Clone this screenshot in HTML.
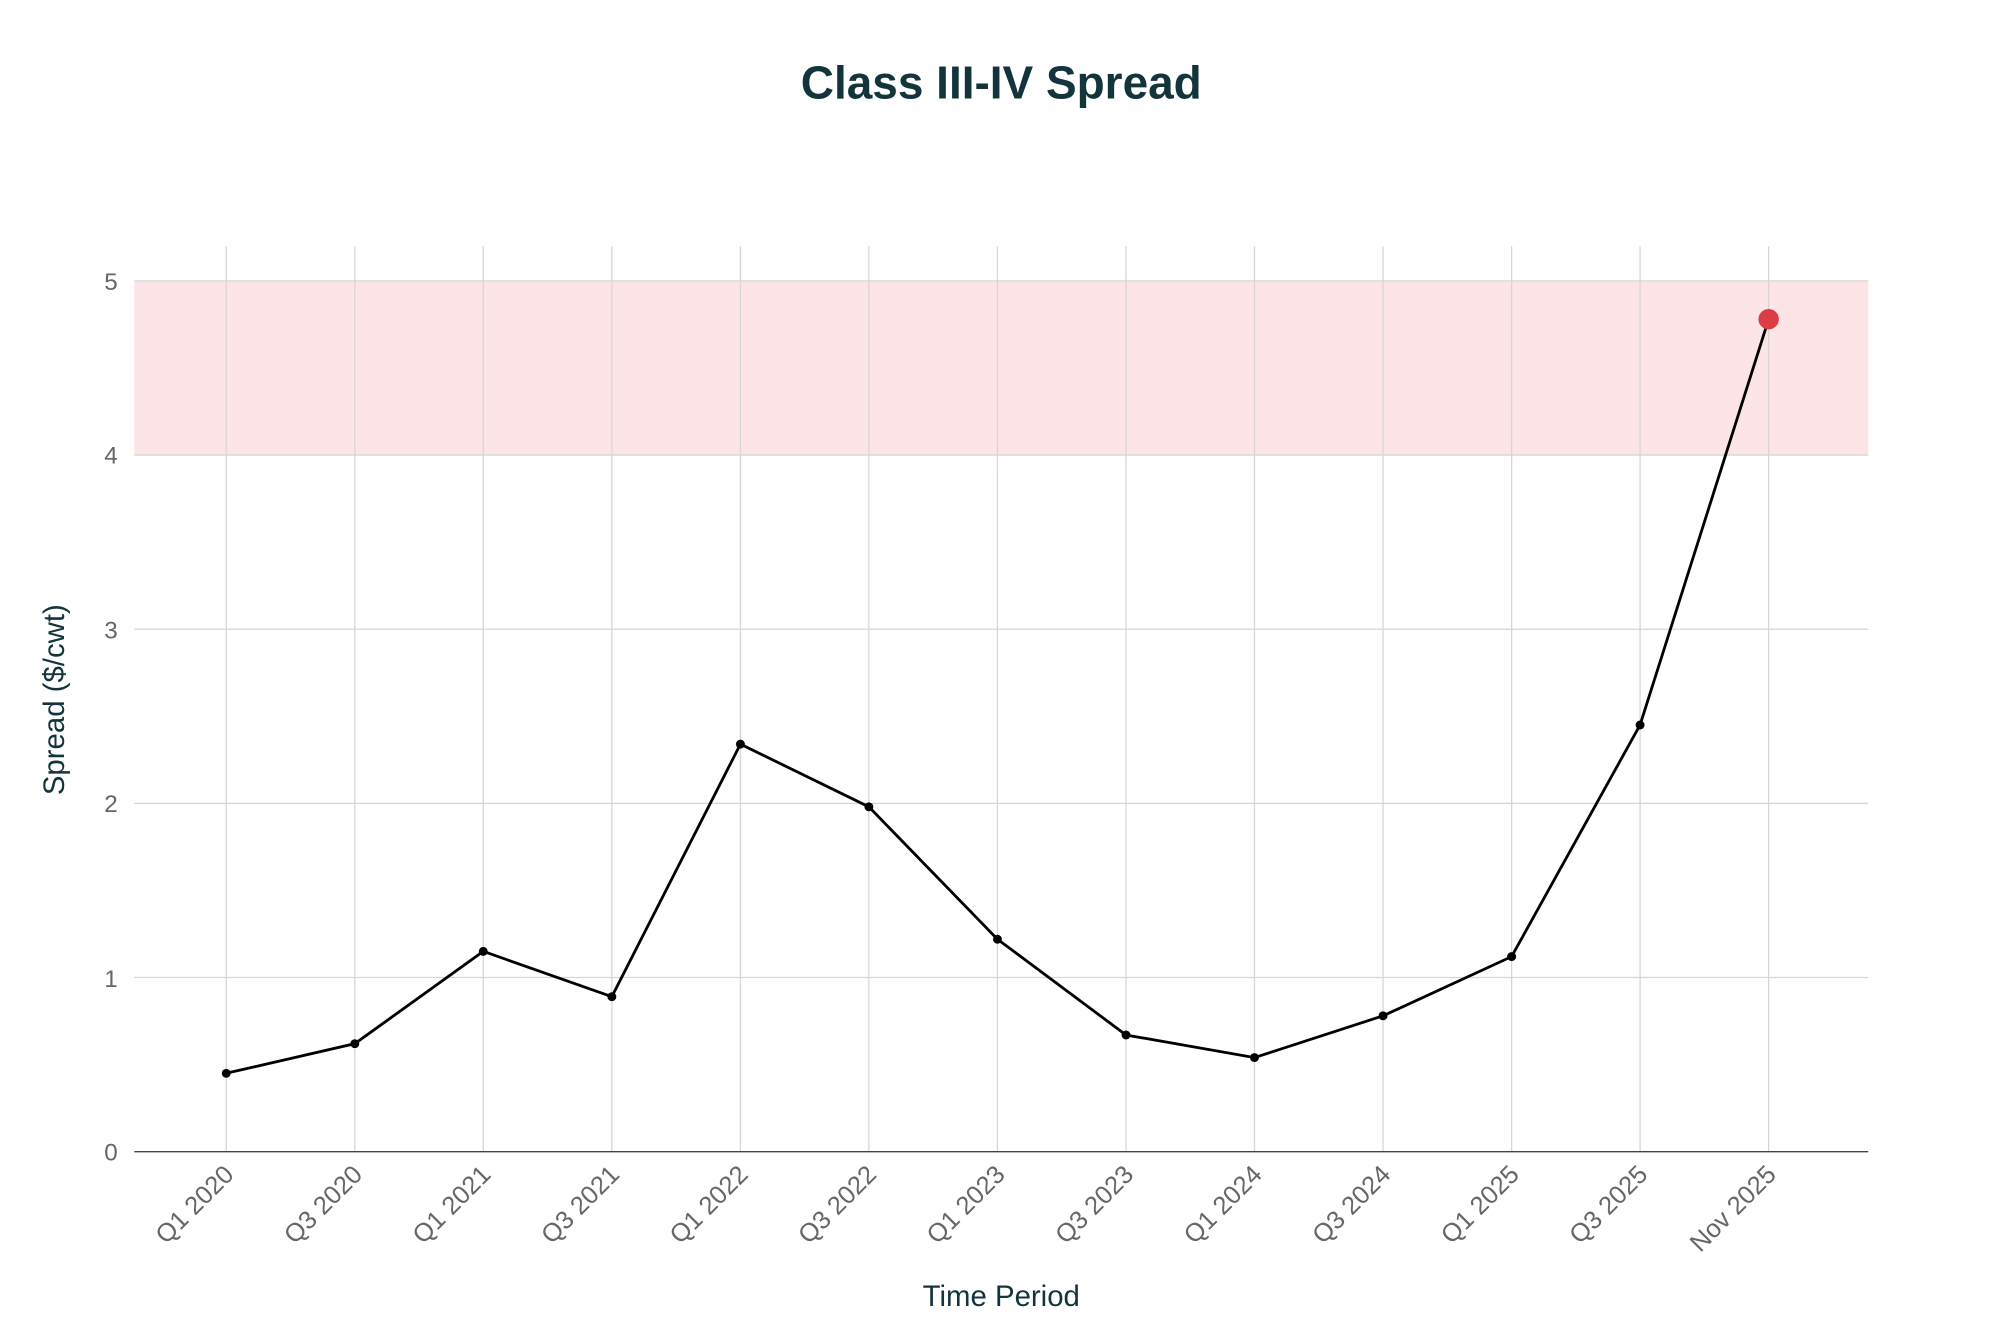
<!DOCTYPE html>
<html><head><meta charset="utf-8"><style>
html,body{margin:0;padding:0;background:#fff}
svg{display:block}
text{font-family:"Liberation Sans",sans-serif}
</style></head><body>
<svg width="2000" height="1333" viewBox="0 0 1566 1044" xmlns="http://www.w3.org/2000/svg">
<rect width="1566" height="1044" fill="#fff"/>
<text x="784" y="77" text-anchor="middle" font-size="36" font-weight="bold" fill="#13343b">Class III-IV Spread</text>
<rect x="105" y="220" width="1358" height="136.4" fill="#fde4e6"/>
<g stroke="#d6d6d6" stroke-width="1">
<line x1="177" y1="193" x2="177" y2="902"/><line x1="277.7" y1="193" x2="277.7" y2="902"/>
<line x1="378.3" y1="193" x2="378.3" y2="902"/><line x1="479" y1="193" x2="479" y2="902"/>
<line x1="579.7" y1="193" x2="579.7" y2="902"/><line x1="680.3" y1="193" x2="680.3" y2="902"/>
<line x1="781" y1="193" x2="781" y2="902"/><line x1="881.7" y1="193" x2="881.7" y2="902"/>
<line x1="982.3" y1="193" x2="982.3" y2="902"/><line x1="1083" y1="193" x2="1083" y2="902"/>
<line x1="1183.7" y1="193" x2="1183.7" y2="902"/><line x1="1284.3" y1="193" x2="1284.3" y2="902"/>
<line x1="1385" y1="193" x2="1385" y2="902"/>
<line x1="105" y1="220" x2="1463" y2="220"/><line x1="105" y1="356.4" x2="1463" y2="356.4"/>
<line x1="105" y1="492.8" x2="1463" y2="492.8"/><line x1="105" y1="629.2" x2="1463" y2="629.2"/>
<line x1="105" y1="765.6" x2="1463" y2="765.6"/>
</g>
<line x1="105" y1="902" x2="1463" y2="902" stroke="#444" stroke-width="1"/>
<g font-size="19" fill="#666" text-anchor="end">
<text x="92" y="909">0</text><text x="92" y="773">1</text><text x="92" y="636">2</text>
<text x="92" y="500">3</text><text x="92" y="363">4</text><text x="92" y="227">5</text>
</g>
<g font-size="20" fill="#666" text-anchor="end">
<text transform="translate(184,921) rotate(-45)">Q1 2020</text>
<text transform="translate(284.7,921) rotate(-45)">Q3 2020</text>
<text transform="translate(385.3,921) rotate(-45)">Q1 2021</text>
<text transform="translate(486,921) rotate(-45)">Q3 2021</text>
<text transform="translate(586.7,921) rotate(-45)">Q1 2022</text>
<text transform="translate(687.3,921) rotate(-45)">Q3 2022</text>
<text transform="translate(788,921) rotate(-45)">Q1 2023</text>
<text transform="translate(888.7,921) rotate(-45)">Q3 2023</text>
<text transform="translate(989.3,921) rotate(-45)">Q1 2024</text>
<text transform="translate(1090,921) rotate(-45)">Q3 2024</text>
<text transform="translate(1190.7,921) rotate(-45)">Q1 2025</text>
<text transform="translate(1291.3,921) rotate(-45)">Q3 2025</text>
<text transform="translate(1392,921) rotate(-45)">Nov 2025</text>
</g>
<text x="784" y="1023" text-anchor="middle" font-size="23" fill="#13343b">Time Period</text>
<text transform="translate(50,548) rotate(-90)" text-anchor="middle" font-size="23" fill="#13343b">Spread ($/cwt)</text>
<polyline fill="none" stroke="#000" stroke-width="2.2" points="177,840.6 277.7,817.4 378.3,745.1 479,780.6 579.7,582.8 680.3,631.9 781,735.6 881.7,810.6 982.3,828.3 1083,795.6 1183.7,749.2 1284.3,567.8 1385,250"/>
<g fill="#000">
<circle cx="177" cy="840.6" r="3.5"/><circle cx="277.7" cy="817.4" r="3.5"/><circle cx="378.3" cy="745.1" r="3.5"/>
<circle cx="479" cy="780.6" r="3.5"/><circle cx="579.7" cy="582.8" r="3.5"/><circle cx="680.3" cy="631.9" r="3.5"/>
<circle cx="781" cy="735.6" r="3.5"/><circle cx="881.7" cy="810.6" r="3.5"/><circle cx="982.3" cy="828.3" r="3.5"/>
<circle cx="1083" cy="795.6" r="3.5"/><circle cx="1183.7" cy="749.2" r="3.5"/><circle cx="1284.3" cy="567.8" r="3.5"/>
</g>
<circle cx="1385" cy="250" r="8" fill="#db3d44"/>
</svg>
</body></html>
